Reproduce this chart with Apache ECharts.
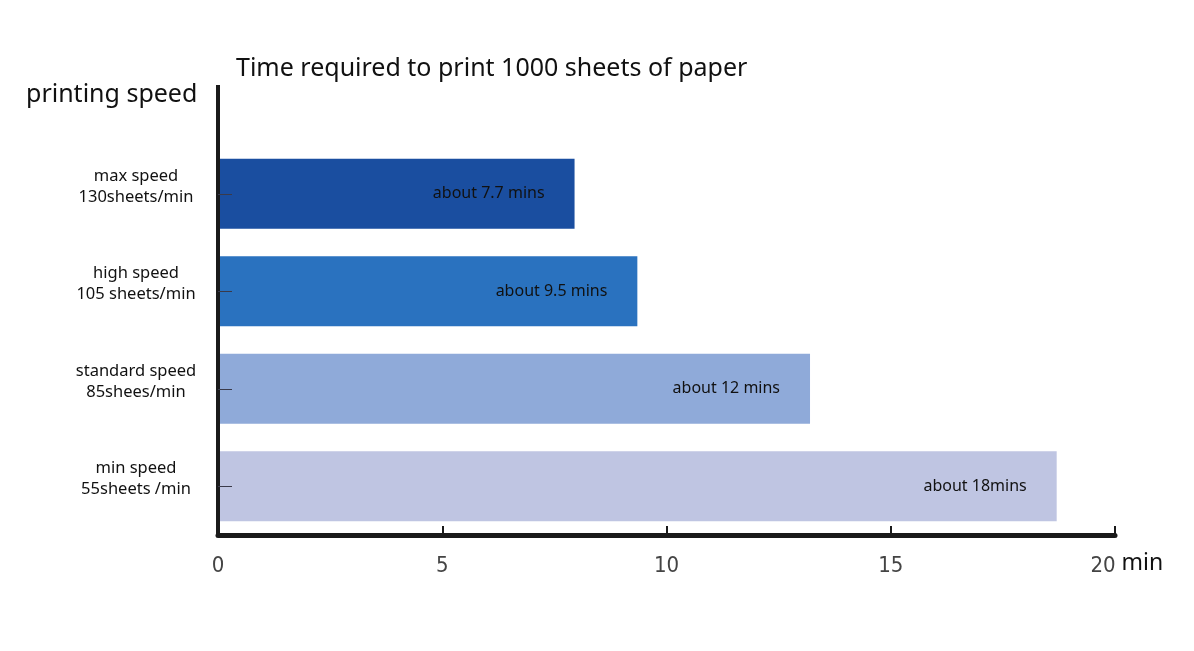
<!DOCTYPE html>
<html>
<head>
<meta charset="utf-8">
<script src="https://cdn.jsdelivr.net/npm/echarts@6/dist/echarts.min.js"></script>
<style>html,body{margin:0;padding:0;background:#fff}#c{width:1194px;height:651px}</style>
</head>
<body>
<div id="c"></div>
<script>
const categories = ['max speed\n130sheets/min', 'high speed\n105 sheets/min', 'standard speed\n85shees/min', 'min speed\n55sheets /min'];
const minutes = [7.95, 9.35, 13.2, 18.7];
const barLabels = ['about 7.7 mins', 'about 9.5 mins', 'about 12 mins', 'about 18mins'];
const barColors = ['#1a4ea0', '#2a72bf', '#8faad9', '#bfc5e2'];
const xTicks = [0, 5, 10, 15, 20];

const chart = echarts.init(document.getElementById('c'));
chart.setOption({
  animation: false,
  backgroundColor: '#fff',
  title: [
    { text: 'Time required to print 1000 sheets of paper', left: 231, top: 51,
      textStyle: { fontFamily: 'Noto Sans', fontSize: 25, fontWeight: 'normal', color: '#111' } },
    { text: 'printing speed', left: 21, top: 77,
      textStyle: { fontFamily: 'Noto Sans', fontSize: 25, fontWeight: 'normal', color: '#111' } }
  ],
  grid: { left: 218, right: 79, top: 145, bottom: 116, containLabel: false },
  xAxis: {
    type: 'value', min: xTicks[0], max: xTicks[xTicks.length - 1], interval: 5,
    axisLine: { show: true, lineStyle: { color: '#1a1a1a', width: 5 } },
    axisTick: { show: true, inside: true, length: 9, lineStyle: { color: '#1a1a1a', width: 2 } },
    splitLine: { show: false },
    axisLabel: {
      margin: 20, fontSize: 22, color: '#444', fontFamily: 'DejaVu Sans Condensed, Liberation Sans Narrow, sans-serif',
      formatter: v => v === 20 ? '{last|20}' : String(v),
      rich: { last: { padding: [0, 24, 0, 0], fontSize: 22, color: '#444', fontFamily: 'DejaVu Sans Condensed, Liberation Sans Narrow, sans-serif' } }
    },
    name: 'min', nameLocation: 'end', nameGap: -2,
    nameTextStyle: { fontSize: 23, color: '#111', fontFamily: 'Noto Sans', verticalAlign: 'top', align: 'left', padding: [17, 0, 0, 0] }
  },
  yAxis: {
    type: 'category', inverse: true, data: categories, z: 5,
    axisLine: { show: true, lineStyle: { color: '#1a1a1a', width: 4 } },
    axisTick: { show: true, inside: true, alignWithLabel: true, length: 14, lineStyle: { color: '#3a3a4a', width: 1 } },
    axisLabel: {
      margin: 82, align: 'center', color: '#111',
      formatter: v => v.split('\n').map(s => '{a|' + s + '}').join('\n') + '\n{g| }',
      rich: {
        a: { fontSize: 16.5, lineHeight: 21, color: '#111', fontFamily: 'Noto Sans', align: 'center' },
        g: { fontSize: 8, lineHeight: 14 }
      }
    }
  },
  series: [{
    type: 'bar', barWidth: 70,
    data: minutes.map((v, i) => ({ value: v, itemStyle: { color: barColors[i] } })),
    label: {
      show: true, position: 'insideRight', distance: 30,
      formatter: p => barLabels[p.dataIndex],
      fontSize: 16, color: '#111', fontFamily: 'Noto Sans', padding: [0, 0, 6, 0]
    },
    z: 1
  }],
  graphic: [{
    type: 'line', shape: { x1: 218, y1: 85, x2: 218, y2: 146 },
    style: { stroke: '#1a1a1a', lineWidth: 4 }, z: 10
  }]
});
</script>
</body>
</html>
